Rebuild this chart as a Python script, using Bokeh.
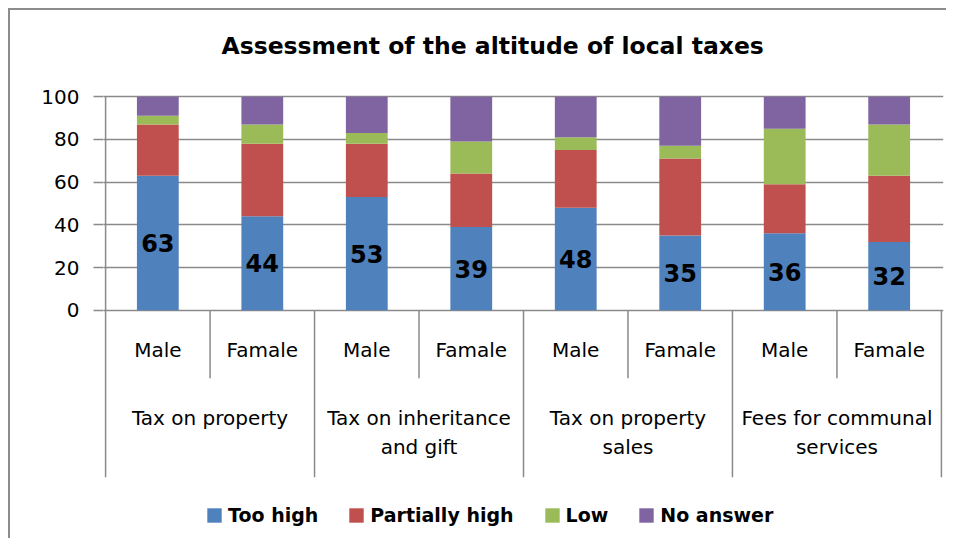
from bokeh.plotting import figure
from bokeh.models import ColumnDataSource, FactorRange, Range1d, FixedTicker, Legend, LegendItem, Title
from bokeh.core.properties import value
from bokeh.embed import file_html
from bokeh.resources import INLINE

# ---- data ----
groups = ["Tax on property", "Tax on inheritance\nand gift", "Tax on property\nsales", "Fees for communal\nservices"]
sexes = ["Male", "Famale"]
series = ["Too high", "Partially high", "Low", "No answer"]
too_high = [63, 44, 53, 39, 48, 35, 36, 32]
partially_high = [24, 34, 25, 25, 27, 36, 23, 31]
low = [4, 9, 5, 15, 6, 6, 26, 24]
no_answer = [9, 13, 17, 21, 19, 23, 15, 13]
y_ticks = [0, 20, 40, 60, 80, 100]
colors = ["#4F81BD", "#C0504D", "#9BBB59", "#8064A2"]
title_text = "Assessment of the altitude of local taxes"

GREY = "#8a8a8a"
FONT = value("DejaVu Sans")

factors = [(g, s) for g in groups for s in sexes]
keys = ["too_high", "partially_high", "low", "no_answer"]
src = ColumnDataSource(dict(x=factors, too_high=too_high, partially_high=partially_high,
                            low=low, no_answer=no_answer))

p = figure(width=938, height=530,
           x_range=FactorRange(*factors, factor_padding=0, group_padding=0,
                               range_padding=0.02, range_padding_units="absolute"),
           y_range=Range1d(-105, 101),
           x_axis_location=None,
           output_backend="svg", toolbar_location=None,
           min_border_left=93, min_border_right=5, min_border_top=84, min_border_bottom=6)

renderers = p.vbar_stack(keys, x="x", width=0.4, fill_color=colors, line_color=None, source=src)

# data labels (Too high), centered in blue segment
lab = ColumnDataSource(dict(x=factors, y=[v / 2 for v in too_high], t=[str(v) for v in too_high]))
p.text(x="x", y="y", text="t", source=lab, text_font=FONT, text_font_size="24px",
       text_font_style="bold", text_color="black", text_align="center", text_baseline="middle")

# category axis: sub labels
p.text(x=factors, y=[0] * len(factors), text=[s for g in groups for s in sexes], y_offset=40,
       text_font=FONT, text_font_size="20px", text_color="black",
       text_align="center", text_baseline="middle")

# group labels (two lines)
n_sub = len(sexes)
gx = [i * n_sub + n_sub / 2 for i in range(len(groups))]
line1 = [g.split("\n")[0] for g in groups]
line2 = [g.split("\n")[1] if "\n" in g else "" for g in groups]
p.text(x=gx, y=[0] * len(groups), text=line1, y_offset=108,
       text_font=FONT, text_font_size="20px", text_color="black",
       text_align="center", text_baseline="middle")
p.text(x=gx, y=[0] * len(groups), text=line2, y_offset=137,
       text_font=FONT, text_font_size="20px", text_color="black",
       text_align="center", text_baseline="middle")

# separators of the category axis
nf = len(factors)
sx = list(range(nf + 1))
sy1 = [-78.2 if i % n_sub == 0 else -31.8 for i in sx]
sy0 = [100 if i == 0 else 0 for i in sx]
p.segment(x0=sx, y0=sy0, x1=sx, y1=sy1, line_color=GREY, line_width=1.5)

# y axis / grid
p.yaxis.ticker = FixedTicker(ticks=y_ticks)
p.yaxis.axis_line_color = None
p.yaxis.major_tick_line_color = GREY
p.yaxis.major_tick_line_width = 1.5
p.yaxis.major_tick_out = 10
p.yaxis.major_tick_in = 0
p.yaxis.minor_tick_line_color = None
p.yaxis.major_label_text_font = "DejaVu Sans"
p.yaxis.major_label_text_font_size = "20px"
p.yaxis.major_label_text_color = "black"
p.yaxis.major_label_standoff = 14
p.ygrid.ticker = FixedTicker(ticks=y_ticks)
p.ygrid.grid_line_color = GREY
p.ygrid.grid_line_width = 1.5
p.xgrid.visible = False
p.outline_line_color = None

# title
p.title.text = title_text
p.title.text_font = "DejaVu Sans"
p.title.text_font_size = "23.5px"
p.title.text_font_style = "bold"
p.title.text_color = "black"
p.title.align = "left"
p.title.offset = 118
p.title.standoff = 10
# invisible spacer between the title and the plot area
p.add_layout(Title(text=" ", text_font_size="2px", text_color="white", standoff=26), "above")

# legend (inside the extended frame, below the category labels)
legend = Legend(items=[LegendItem(label=s, renderers=[r]) for s, r in zip(series, renderers)],
                orientation="horizontal", location=(102, 8),
                label_text_font="DejaVu Sans", label_text_font_size="19px",
                label_text_font_style="bold", label_text_color="black",
                glyph_width=18, glyph_height=18, label_standoff=5, spacing=29,
                border_line_color=None, background_fill_alpha=0, padding=0, margin=0)
p.add_layout(legend, "center")

p.margin = (8, 0, 0, 8)
p.styles = {"border-left": "2px solid #8c8c8c", "border-top": "2px solid #8c8c8c"}

open("out.html", "w").write(file_html(p, INLINE))
